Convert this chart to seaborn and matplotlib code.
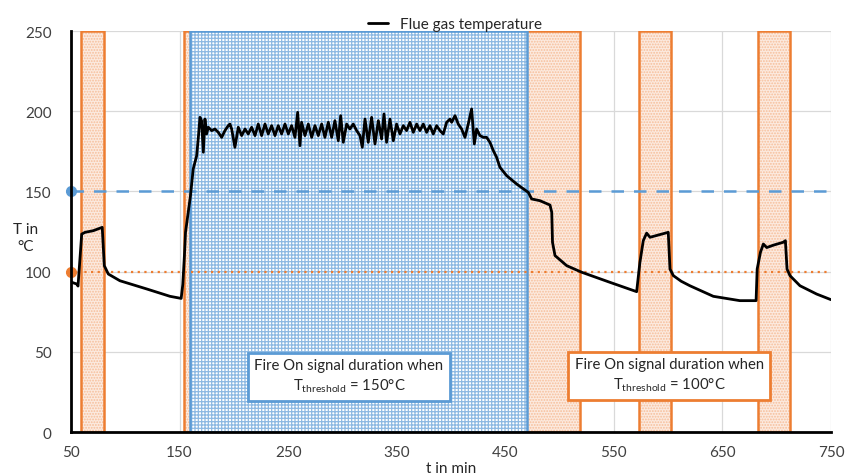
import matplotlib
matplotlib.use("Agg")
import matplotlib.pyplot as plt
import seaborn as sns
import pandas as pd

# ---- data ----
time_min = [
    50, 55.2, 56.5, 59.9, 63, 70.5, 78.8, 80.7, 84.4, 95.1, 119.7, 141.2, 151.5,
    153, 154.5, 155.5, 158, 160, 162.6, 165.8, 167.5,
    168.8, 170.3, 171.9, 173.4, 174.9, 176.5, 179.6, 182.6, 185.7, 188.8, 191.8,
    194.9, 196.4, 198.0, 201.0, 204.1, 207.2, 210.3, 213.3, 216.4, 219.5, 222.5,
    225.6, 228.7, 231.7, 234.8, 237.9, 240.9, 244.0, 247.1, 250.2, 253.2, 256.3,
    258.8, 260.9, 262.4, 265.5, 268.6, 271.7, 274.7, 277.8, 280.9, 283.9, 287.0,
    290.1, 293.1, 296.2, 298.4, 300.8, 303.9, 306.9, 310.0, 313.1, 316.2, 318.3,
    320.8, 323.8, 326.9, 330.0, 333.1, 336.1, 338.3, 340.7, 343.8, 346.9, 349.9,
    353.0, 356.1, 359.1, 362.2, 365.3, 368.4, 371.4, 374.5, 377.6, 380.6, 383.7,
    386.8, 389.8, 392.9, 396.0, 399.1, 400.6, 403.7, 406.7, 409.8, 412.9, 415.9,
    419.0, 421.5, 423.6, 426.7, 429.8, 432.8, 435.9, 439.0, 442.0,
    445.1, 451.3, 460.5, 471.2, 474.3, 482, 491.2, 492.8, 493.5, 495.8, 506.6,
    520.4, 546.5, 571, 574, 577.1, 580.2, 583.3, 590.9, 600.1, 601.7, 604.8,
    612, 620, 641.6, 666, 681, 682, 685, 687.7, 690.8, 697, 706, 708, 709.5,
    712.2, 721.4, 736.8, 750,
]
flue_temp = [
    93.5, 92.3, 91, 123.4, 124.5, 125.5, 127.6, 103.7, 98.5, 94.3, 89.2, 84.6, 83.3,
    92, 110, 124.5, 137, 147, 164, 172.3, 185,
    196.2, 194.1, 174.4, 195.1, 185.8, 190.0, 187.9, 188.9, 186.8, 183.7, 187.9,
    191.0, 192.0, 188.9, 177.5, 190.0, 184.8, 188.9, 185.8, 190.0, 184.8, 192.0,
    184.8, 192.0, 185.8, 191.0, 184.8, 191.0, 185.8, 192.0, 185.8, 191.0, 183.7,
    199.3, 178.5, 193.1, 184.8, 192.0, 183.7, 191.0, 184.8, 192.0, 183.7, 193.1,
    183.7, 194.1, 181.6, 197.2, 180.6, 192.0, 188.9, 192.0, 187.9, 184.8, 177.5,
    195.1, 180.6, 196.2, 179.6, 194.1, 182.7, 198.3, 180.6, 195.1, 181.6, 192.0,
    185.8, 191.0, 187.9, 193.1, 186.8, 192.0, 187.9, 192.0, 186.8, 191.0, 185.8,
    191.0, 187.9, 185.8, 193.1, 195.1, 193.1, 197.2, 192.0, 188.9, 183.7, 192.0,
    201.4, 179.6, 188.9, 184.8, 183.7, 183.7, 180.6, 175.4, 171.3,
    165, 159.8, 154.6, 149.4, 145.3, 144.2, 141.5, 137, 118.3, 110, 103.7,
    99.6, 93.3, 87.5, 105.8, 119.3, 124, 121.4, 122.8, 124.5, 101.6, 97.5,
    94, 91.2, 84.6, 81.9, 81.9, 101.6, 112, 117.2, 115, 116.5, 118.3, 119.3, 101.6,
    97.5, 91.2, 86, 82.5,
]

# fire-on periods (min)
orange_start = [59.5, 154, 573, 682.5]
orange_end = [80.5, 519, 602.5, 712]
blue_start = 159.6
blue_end = 470

thr_low = 100
thr_high = 150

ORANGE = "#ED7D31"
BLUE = "#5B9BD5"

sns.set_theme(style="white")
plt.rcParams["font.family"] = ["Lato", "DejaVu Sans"]
plt.rcParams["mathtext.fontset"] = "custom"
plt.rcParams["mathtext.rm"] = "Lato"
plt.rcParams["hatch.linewidth"] = 0.9

df = pd.DataFrame({"t": time_min, "T": flue_temp})

fig = plt.figure(figsize=(8.56, 4.77), dpi=100)
ax = fig.add_axes([0.0829, 0.0922, 0.8879, 0.8407])

# orange fire-on spans (dotted peach fill + orange outline)
for s, e in zip(orange_start, orange_end):
    ax.axvspan(s, e, facecolor="#FCEADF", edgecolor="#F6BE9A",
               hatch="......", linewidth=0, zorder=1)
    ax.axvspan(s, e, fill=False, edgecolor=ORANGE, linewidth=1.8, zorder=1.2)

# blue fire-on span (grid hatch + blue outline)
ax.axvspan(blue_start, blue_end, facecolor="white", edgecolor="#8DB9E2",
           hatch="+++++", linewidth=0, zorder=1.5)
ax.axvspan(blue_start, blue_end, fill=False, edgecolor=BLUE, linewidth=1.8, zorder=1.6)

# threshold lines
ax.axhline(thr_high, color=BLUE, linestyle=(0, (5, 4)), linewidth=1.8, zorder=2)
ax.axhline(thr_low, color=ORANGE, linestyle=(0, (1, 2)), linewidth=1.6, zorder=2)
ax.plot([50], [thr_high], "o", color=BLUE, markersize=7, clip_on=False, zorder=5)
ax.plot([50], [thr_low], "o", color=ORANGE, markersize=7, clip_on=False, zorder=5)

sns.lineplot(data=df, x="t", y="T", color="black", linewidth=2,
             estimator=None, sort=False, label="Flue gas temperature",
             ax=ax, zorder=4)

ax.set_xlim(50, 750)
ax.set_ylim(0, 250)
ax.set_xticks(range(50, 751, 100))
ax.set_yticks(range(0, 251, 50))
ax.tick_params(axis="y", length=0, labelsize=11, colors="#404040", pad=14)
ax.tick_params(axis="x", length=0, labelsize=11, colors="#404040", pad=9)
ax.grid(True, color="#D9D9D9", linewidth=0.9)
ax.set_axisbelow(True)
for side in ["top", "right"]:
    ax.spines[side].set_visible(False)
for side in ["left", "bottom"]:
    ax.spines[side].set_color("black")
    ax.spines[side].set_linewidth(2)
    ax.spines[side].set_zorder(6)

ax.set_xlabel("t in min", fontsize=11, color="#262626", labelpad=2)
ax.set_ylabel("T in\n°C", fontsize=11, color="#262626", rotation=0,
              va="center", ha="center", linespacing=1.3)
ax.yaxis.set_label_coords(-0.06, 0.485)

ax.legend(loc="lower center", bbox_to_anchor=(0.505, 0.985), frameon=False,
          fontsize=11, handlelength=1.3, borderaxespad=0)

box_kw = dict(ha="center", va="center", fontsize=10.7, color="#262626",
              linespacing=1.35, zorder=7)
ax.text(306, 35, "Fire On signal duration when\nT$_{\\mathrm{threshold}}$ = 150°C",
        bbox=dict(boxstyle="square,pad=0.45", facecolor="white",
                  edgecolor=BLUE, linewidth=2), **box_kw)
ax.text(601, 35.5, "Fire On signal duration when\nT$_{\\mathrm{threshold}}$ = 100°C",
        bbox=dict(boxstyle="square,pad=0.45", facecolor="white",
                  edgecolor=ORANGE, linewidth=2), **box_kw)

fig.savefig("out.png", dpi=100)
